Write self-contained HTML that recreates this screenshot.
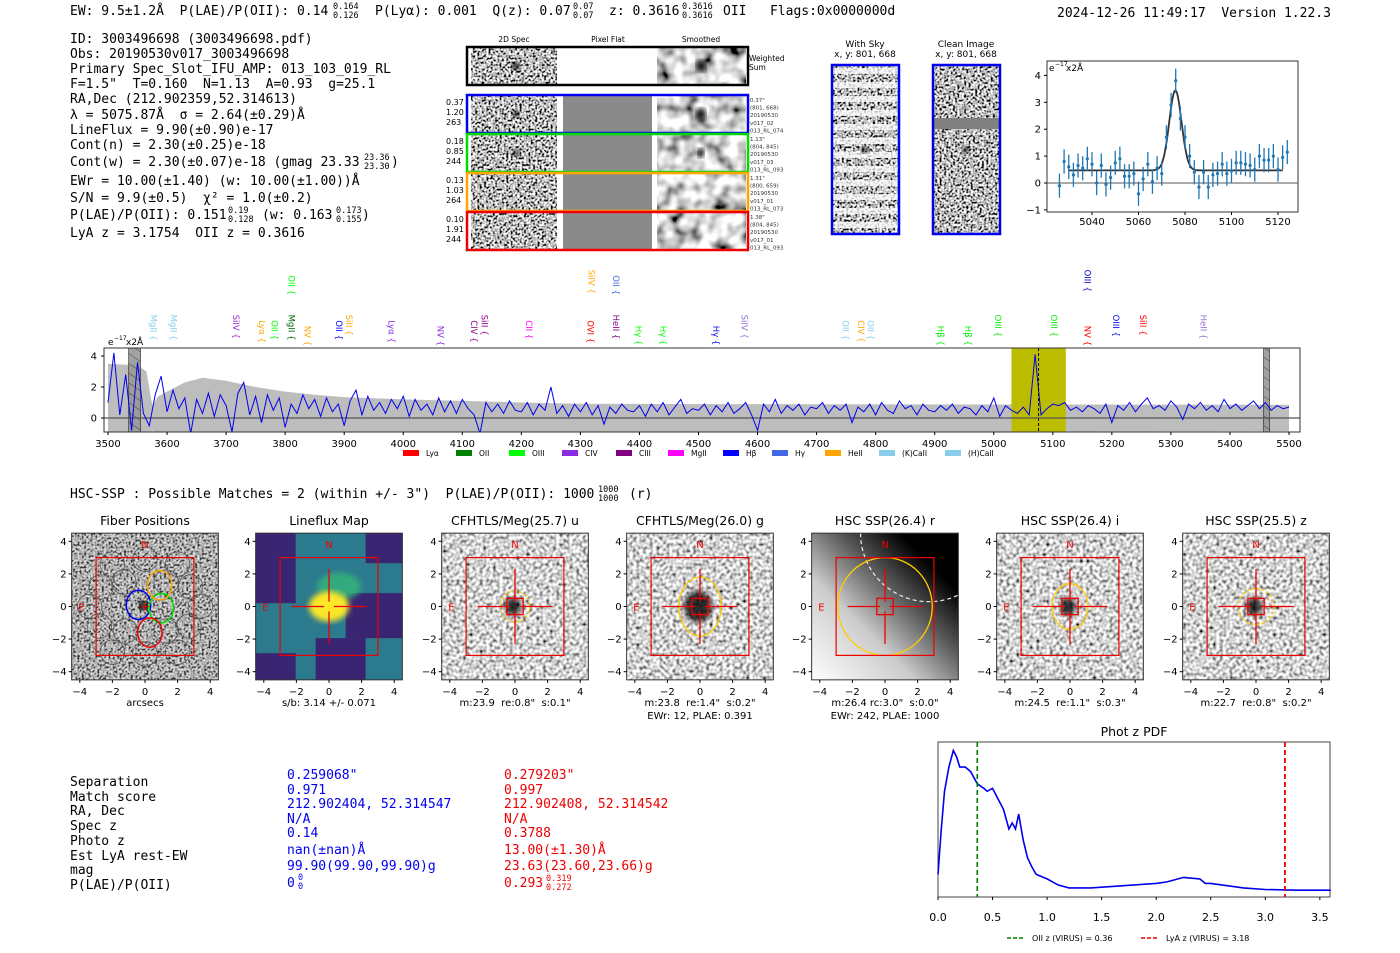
<!DOCTYPE html>
<html><head><meta charset="utf-8"><title>Detection 3003496698</title>
<style>
html,body{margin:0;padding:0;background:#fff;}
svg{display:block;}
text{white-space:pre;}
.mono{font-family:"DejaVu Sans Mono","Liberation Mono",monospace;font-size:13px;fill:#000;white-space:pre;}
.mono[font-size]{font-size:8.5px;}
.sans{font-family:"DejaVu Sans","Liberation Sans",sans-serif;white-space:pre;}
.tick{font-family:"DejaVu Sans","Liberation Sans",sans-serif;font-size:10px;fill:#000;white-space:pre;}
.ttl{font-family:"DejaVu Sans","Liberation Sans",sans-serif;font-size:12.5px;fill:#000;text-anchor:middle;}
</style></head>
<body>
<svg id="root" xml:space="preserve" width="1400" height="953" viewBox="0 0 1400 953" xmlns="http://www.w3.org/2000/svg">
<defs>
<filter id="grain" x="0" y="0" width="100%" height="100%"><feTurbulence type="fractalNoise" baseFrequency="0.45" numOctaves="1" seed="4"/><feColorMatrix type="matrix" values="3.2 0 0 0 -1.1 3.2 0 0 0 -1.1 3.2 0 0 0 -1.1 0 0 0 0 1"/></filter>
<filter id="grainlt" x="0" y="0" width="100%" height="100%"><feTurbulence type="fractalNoise" baseFrequency="0.3" numOctaves="1" seed="9"/><feColorMatrix type="matrix" values="2.2 0 0 0 -0.45 2.2 0 0 0 -0.45 2.2 0 0 0 -0.45 0 0 0 0 1"/></filter>
<filter id="smooth" x="0" y="0" width="100%" height="100%"><feTurbulence type="fractalNoise" baseFrequency="0.07" numOctaves="2" seed="2"/><feColorMatrix type="matrix" values="2.2 0 0 0 -0.45 2.2 0 0 0 -0.45 2.2 0 0 0 -0.45 0 0 0 0 1"/></filter>
<filter id="blurblob"><feGaussianBlur stdDeviation="3"/></filter>
<linearGradient id="rgrad" x1="0" y1="1" x2="1" y2="0"><stop offset="0" stop-color="#fff"/><stop offset="0.35" stop-color="#ccc"/><stop offset="0.6" stop-color="#555"/><stop offset="0.8" stop-color="#000"/></linearGradient>
<pattern id="hatch" width="8" height="8" patternUnits="userSpaceOnUse" patternTransform="rotate(-55)"><rect width="8" height="8" fill="#999"/><line x1="0" y1="0" x2="0" y2="8" stroke="#333" stroke-width="1"/></pattern>
<clipPath id="specclip"><rect x="104" y="348" width="1196" height="84"/></clipPath>
<clipPath id="zclip"><rect x="1047" y="61" width="251" height="151"/></clipPath>
</defs>

<g>
<text class="mono" x="70" y="15">EW: 9.5±1.2Å  P(LAE)/P(OII): 0.14</text>
<text class="mono" x="333" y="9" font-size="8.5">0.164</text><text class="mono" x="333" y="18" font-size="8.5">0.126</text>
<text class="mono" x="375" y="15">P(Lyα): 0.001  Q(z): 0.07</text>
<text class="mono" x="573" y="9" font-size="8.5">0.07</text><text class="mono" x="573" y="18" font-size="8.5">0.07</text>
<text class="mono" x="609" y="15">z: 0.3616</text>
<text class="mono" x="682" y="9" font-size="8.5">0.3616</text><text class="mono" x="682" y="18" font-size="8.5">0.3616</text>
<text class="mono" x="723" y="15">OII   Flags:0x0000000d</text>
<text class="mono" x="1057" y="17">2024-12-26 11:49:17  Version 1.22.3</text>
</g>

<g>
<text class="mono" x="70" y="43">ID: 3003496698 (3003496698.pdf)</text>
<text class="mono" x="70" y="58">Obs: 20190530v017_3003496698</text>
<text class="mono" x="70" y="73">Primary Spec_Slot_IFU_AMP: 013_103_019_RL</text>
<text class="mono" x="70" y="88">F=1.5"  T=0.160  N=1.13  A=0.93  g=25.1</text>
<text class="mono" x="70" y="103">RA,Dec (212.902359,52.314613)</text>
<text class="mono" x="70" y="119">λ = 5075.87Å  σ = 2.64(±0.29)Å</text>
<text class="mono" x="70" y="134">LineFlux = 9.90(±0.90)e-17</text>
<text class="mono" x="70" y="149">Cont(n) = 2.30(±0.25)e-18</text>
<text class="mono" x="70" y="166">Cont(w) = 2.30(±0.07)e-18 (gmag 23.33</text>
<text class="mono" x="364" y="160" font-size="8.5">23.36</text><text class="mono" x="364" y="169" font-size="8.5">23.30</text><text class="mono" x="391" y="166">)</text>
<text class="mono" x="70" y="185">EWr = 10.00(±1.40) (w: 10.00(±1.00))Å</text>
<text class="mono" x="70" y="202">S/N = 9.9(±0.5)  χ² = 1.0(±0.2)</text>
<text class="mono" x="70" y="219">P(LAE)/P(OII): 0.151</text>
<text class="mono" x="228" y="213" font-size="8.5">0.19</text><text class="mono" x="228" y="222" font-size="8.5">0.128</text>
<text class="mono" x="262" y="219">(w: 0.163</text>
<text class="mono" x="336" y="213" font-size="8.5">0.173</text><text class="mono" x="336" y="222" font-size="8.5">0.155</text><text class="mono" x="362" y="219">)</text>
<text class="mono" x="70" y="237">LyA z = 3.1754  OII z = 0.3616</text>
</g>

<g class="sans">
<text x="514" y="42" font-size="7.5" text-anchor="middle">2D Spec</text>
<text x="608" y="42" font-size="7.5" text-anchor="middle">Pixel Flat</text>
<text x="701" y="42" font-size="7.5" text-anchor="middle">Smoothed</text>
<g>
<rect x="471" y="48" width="86" height="36" fill="#888" filter="url(#grain)"/>
<rect x="657" y="48" width="89" height="36" fill="#888" filter="url(#smooth)"/>
<ellipse cx="516" cy="66" rx="4" ry="4" fill="#000" filter="url(#blurblob)"/>
<ellipse cx="701" cy="66" rx="5" ry="6" fill="#000" filter="url(#blurblob)"/>
<rect x="467" y="47" width="281" height="38" fill="none" stroke="#000" stroke-width="2.5"/>
<text x="749" y="61" font-size="7.5">Weighted</text><text x="749" y="70" font-size="7.5">Sum</text>
</g>
<g id="fiberrows"></g>
</g>

<g class="sans">
<text x="865" y="47" font-size="9" text-anchor="middle">With Sky</text>
<text x="865" y="57" font-size="9" text-anchor="middle">x, y: 801, 668</text>
<rect x="832" y="65" width="67" height="169" fill="#888" filter="url(#grain)"/>
<g id="skystripes"></g>
<ellipse cx="865" cy="150" rx="4" ry="3" fill="#000" filter="url(#blurblob)"/>
<rect x="832" y="65" width="67" height="169" fill="none" stroke="#0000ee" stroke-width="2.5"/>
</g>
<g class="sans">
<text x="966" y="47" font-size="9" text-anchor="middle">Clean Image</text>
<text x="966" y="57" font-size="9" text-anchor="middle">x, y: 801, 668</text>
<rect x="933" y="65" width="67" height="169" fill="#888" filter="url(#grain)"/>
<rect x="933" y="118" width="67" height="11" fill="#808080"/>
<ellipse cx="966" cy="150" rx="4" ry="3" fill="#000" filter="url(#blurblob)"/>
<rect x="933" y="65" width="67" height="169" fill="none" stroke="#0000ee" stroke-width="2.5"/>
</g>

<g id="zoomplot"></g>
<g id="specplot"></g>

<text class="mono" x="70" y="498">HSC-SSP : Possible Matches = 2 (within +/- 3")  P(LAE)/P(OII): 1000</text>
<text class="mono" x="598" y="492" font-size="8.5">1000</text>
<text class="mono" x="598" y="501" font-size="8.5">1000</text>
<text class="mono" x="629" y="498">(r)</text>

<g id="thumbs"></g>

<g>
<g class="mono">
<text class="mono" x="70" y="786">Separation</text><text class="mono" x="70" y="801">Match score</text><text class="mono" x="70" y="815">RA, Dec</text><text class="mono" x="70" y="830">Spec z</text><text class="mono" x="70" y="845">Photo z</text><text class="mono" x="70" y="860">Est LyA rest-EW</text><text class="mono" x="70" y="874">mag</text><text class="mono" x="70" y="889">P(LAE)/P(OII)</text>
</g>
<g>
<text class="mono" x="287" y="779" style="fill:#0000ee">0.259068"</text><text class="mono" x="287" y="794" style="fill:#0000ee">0.971</text><text class="mono" x="287" y="808" style="fill:#0000ee">212.902404, 52.314547</text><text class="mono" x="287" y="823" style="fill:#0000ee">N/A</text><text class="mono" x="287" y="837" style="fill:#0000ee">0.14</text><text class="mono" x="287" y="854" style="fill:#0000ee">nan(±nan)Å</text><text class="mono" x="287" y="870" style="fill:#0000ee">99.90(99.90,99.90)g</text><text class="mono" x="287" y="887" style="fill:#0000ee">0</text>
<text class="mono" x="298" y="880" font-size="8.5" style="fill:#0000ee">0</text><text class="mono" x="298" y="889" font-size="8.5" style="fill:#0000ee">0</text>
</g>
<g>
<text class="mono" x="504" y="779" style="fill:#ee0000">0.279203"</text><text class="mono" x="504" y="794" style="fill:#ee0000">0.997</text><text class="mono" x="504" y="808" style="fill:#ee0000">212.902408, 52.314542</text><text class="mono" x="504" y="823" style="fill:#ee0000">N/A</text><text class="mono" x="504" y="837" style="fill:#ee0000">0.3788</text><text class="mono" x="504" y="854" style="fill:#ee0000">13.00(±1.30)Å</text><text class="mono" x="504" y="870" style="fill:#ee0000">23.63(23.60,23.66)g</text><text class="mono" x="504" y="887" style="fill:#ee0000">0.293</text>
<text class="mono" x="546" y="881" font-size="8.5" style="fill:#ee0000">0.319</text><text class="mono" x="546" y="890" font-size="8.5" style="fill:#ee0000">0.272</text>
</g>
</g>

<g id="pdfplot"></g>
</svg>

<script>
// ===== data: zoom line-fit plot =====
const zoomFlux = [-0.1,0.8,0.6,0.3,0.65,0.55,0.9,0.7,0.0,0.65,-0.05,0.2,0.75,0.9,0.25,0.25,0.35,-0.4,0.15,0.7,0.05,0.55,0.35,1.7,2.9,3.8,2.4,1.7,1.0,0.4,-0.15,0.4,-0.15,0.3,0.35,0.7,0.35,0.45,0.75,0.75,0.7,0.65,0.5,1.0,0.85,0.85,1.0,0.5,0.95,1.15];
const zoomStart = 5026;
const zoomStep = 2;
const zoomErr = [0.45];
const fitParams = [0.47, 2.98, 5075.87, 2.64]; // continuum, amplitude, center, sigma
const zoomXTicks = [5040,5060,5080,5100,5120];
const zoomYTicks = [-1,0,1,2,3,4];

// ===== data: full spectrum =====
const specStart = 3500;
const specStep = 10;
const specFlux = [
1.0,4.2,0.2,2.8,-0.8,3.6,0.3,-0.5,1.5,2.7,
0.4,1.8,0.6,1.3,-1.0,1.2,0.3,1.6,0.1,1.5,
0.8,-0.9,1.6,2.3,0.2,1.4,-0.3,1.5,0.5,1.3,
-0.6,0.9,0.3,1.5,0.6,1.2,0.1,1.3,0.4,0.9,
-0.5,1.1,1.8,0.2,1.4,0.5,1.0,0.3,1.2,0.6,
1.4,0.1,1.2,0.5,0.9,0.2,1.3,0.4,1.1,0.3,
1.2,0.6,0.2,-1.0,1.0,0.4,0.9,0.3,1.1,0.5,
0.4,1.0,0.2,0.9,0.5,2.0,0.3,0.8,0.1,0.9,
0.4,1.0,0.2,0.8,-0.4,0.7,0.3,0.9,0.5,0.4,
0.8,0.1,0.9,0.4,1.0,0.2,0.7,1.2,0.3,0.6,
0.5,0.9,0.2,0.8,0.4,1.0,0.3,0.6,1.0,0.2,
-0.8,0.9,0.4,1.2,0.3,0.8,0.5,0.9,0.2,0.7,
0.6,1.0,0.3,0.8,0.5,0.9,-0.3,0.7,0.4,0.9,
0.2,1.0,0.5,0.3,1.1,0.6,0.8,0.2,0.9,0.5,
0.4,0.8,0.5,0.9,0.3,0.7,0.6,0.2,0.8,0.4,
1.3,0.1,0.8,0.5,0.3,0.7,0.2,4.1,0.2,0.6,
0.9,0.8,1.0,0.5,0.7,0.4,0.8,0.6,0.3,0.9,
-0.3,0.8,0.5,1.0,0.4,0.9,1.3,0.6,0.8,0.5,
1.1,0.7,-0.1,0.9,0.6,1.0,0.5,0.8,0.4,1.2,
0.6,0.9,0.5,0.8,1.1,0.6,1.0,0.5,0.8,0.6,0.7];
const errWave = [3500,3550,3565,3575,3585,3600,3630,3660,3700,3750,3800,3850,3900,4000,4100,4200,4300,4500,5000,5500];
const errVal  = [3.5,3.4,3.0,0.8,1.4,1.7,2.3,2.6,2.4,2.0,1.7,1.5,1.35,1.2,1.1,1.0,0.92,0.9,0.87,0.85];
const specXTicks = [3500,3600,3700,3800,3900,4000,4100,4200,4300,4400,4500,4600,4700,4800,4900,5000,5100,5200,5300,5400,5500];
const specYTicks = [0,2,4];
const fitWindow = [5030,5122];
const lineCenter = [5075.87];
const maskRegions = [[3535,3555],[5457,5467]];
const lineNames = ['MgII','MgII','SiIV','Lyα','OII','MgII','NV','OII','SiII','Lyα','NV','CIV','SiII','CII','OVI','HeII','Hγ','Hγ','Hγ','SiIV','OII','CIV','OII','Hβ','Hβ','OIII','OIII','NV','OIII','SiII','HeII','OII','SiIV','OII','OIII'];
const lineWaves = [3577,3611,3717,3761,3782,3811,3838,3891,3908,3980,4063,4120,4138,4213,4317,4360,4398,4440,4530,4578,4749,4775,4791,4910,4956,5007,5102,5159,5207,5253,5355,3811,4319,4360,5159];
const lineColors = ['#87ceeb','#87ceeb','#9932cc','#ffa500','#00ff00','#006400','#ffa500','#0000ff','#ffa500','#8a2be2','#8a2be2','#8b008b','#8b008b','#ff00ff','#ff0000','#800080','#00ff00','#00ff00','#0000ff','#9370db','#87ceeb','#ffa500','#87ceeb','#00ee00','#00ee00','#00ee00','#00ee00','#ff0000','#0000ff','#ff0000','#9370db','#00ff00','#ffa500','#4169e1','#0000cc'];
const lineRow = [0,0,0,0,0,0,0,0,0,0,0,0,0,0,0,0,0,0,0,0,0,0,0,0,0,0,0,0,0,0,0,1,1,1,1];
const legendNames = ['Lyα','OII','OIII','CIV','CIII','MgII','Hβ','Hγ','HeII','(K)CaII','(H)CaII'];
const legendColors = ['#ff0000','#008000','#00ff00','#8a2be2','#800080','#ff00ff','#0000ff','#4169e1','#ffa500','#87ceeb','#87ceeb'];

// ===== data: photo-z PDF =====
const pdfZ = [0,0.03,0.06,0.1,0.14,0.17,0.2,0.25,0.3,0.36,0.42,0.45,0.5,0.55,0.6,0.65,0.68,0.71,0.74,0.78,0.82,0.86,0.9,1.0,1.1,1.2,1.4,1.6,1.8,2.0,2.1,2.25,2.4,2.45,2.5,2.6,2.8,3.0,3.3,3.6];
const pdfVal = [0.15,0.45,0.7,0.86,0.97,0.93,0.86,0.86,0.83,0.75,0.72,0.70,0.72,0.65,0.58,0.45,0.49,0.45,0.55,0.38,0.26,0.2,0.15,0.12,0.08,0.06,0.06,0.07,0.08,0.09,0.1,0.13,0.12,0.09,0.09,0.08,0.06,0.05,0.045,0.045];
const pdfXTicks = [0.0,0.5,1.0,1.5,2.0,2.5,3.0,3.5];
const pdfMarkers = [0.36, 3.18];

// ===== data: thumbnail panels =====
const thumbTitles = ['Fiber Positions','Lineflux Map','CFHTLS/Meg(25.7) u','CFHTLS/Meg(26.0) g','HSC SSP(26.4) r','HSC SSP(26.4) i','HSC SSP(25.5) z'];
const thumbLabels = [['arcsecs'],['s/b: 3.14 +/- 0.071'],['m:23.9  re:0.8"  s:0.1"'],['m:23.8  re:1.4"  s:0.2"','EWr: 12, PLAE: 0.391'],['m:26.4 rc:3.0"  s:0.0"','EWr: 242, PLAE: 1000'],['m:24.5  re:1.1"  s:0.3"'],['m:22.7  re:0.8"  s:0.2"']];
const thumbEllipse = [[0,0,0],[0,0,0],[0.9,0.95,1],[1.3,1.8,0],[2.9,3.0,0],[1.1,1.4,0],[1.1,1.1,1]];
const fiberRows = [['0.37','1.20','263'],['0.18','0.85','244'],['0.13','1.03','264'],['0.10','1.91','244']];
const fiberInfo = [['0.37"','(801, 668)','20190530','v017_02','013_RL_074'],['1.13"','(804, 845)','20190530','v017_03','013_RL_093'],['1.31"','(800, 659)','20190530','v017_01','013_RL_073'],['1.38"','(804, 845)','20190530','v017_01','013_RL_093']];
const fiberColors = ['#0000ee','#00dd00','#ffa500','#ee0000'];

const NS='http://www.w3.org/2000/svg';
function mk(tag, attrs, parent){const e=document.createElementNS(NS,tag);for(const k in attrs)e.setAttribute(k,attrs[k]);parent.appendChild(e);return e;}
function txt(s, attrs, parent){const e=mk('text',attrs,parent);e.textContent=s;return e;}

(function(){
 const g=document.getElementById('fiberrows');
 for(let i=0;i<4;i++){
  const y0=96+i*39;
  const row=mk('g',{},g);
  
  
  mk('rect',{x:471,y:y0,width:86,height:37,fill:'#888',filter:'url(#grain)'},row);
  mk('rect',{x:563,y:y0,width:89,height:37,fill:'#8a8a8a'},row);
  mk('rect',{x:657,y:y0,width:89,height:37,fill:'#888',filter:'url(#smooth)'},row);
  if(i<2){mk('ellipse',{cx:516,cy:y0+18,rx:3.5,ry:3.5,fill:'#000',filter:'url(#blurblob)'},row);
   mk('ellipse',{cx:701,cy:y0+18,rx:i==0?5:3,ry:i==0?6:5,fill:'#000',filter:'url(#blurblob)'},row);}
  mk('rect',{x:467,y:y0-1,width:281,height:38,fill:'none',stroke:fiberColors[i],'stroke-width':2.5},row);
  fiberRows[i].forEach((s,j)=>txt(s,{x:446,y:y0+9+j*10,'font-size':8,class:'sans'},row));
  fiberInfo[i].forEach((s,j)=>txt(s,{x:750,y:y0+6+j*7.6,'font-size':5.5,class:'sans',fill:'#333'},row));
 }
 const sg=document.getElementById('skystripes');
 for(let k=0;k<12;k++){
  const s=mk('rect',{x:832,y:68+k*14,width:67,height:6,fill:'#fff',opacity:0.75},sg);
  
  
 }
})();

(function(){
 const g=document.getElementById('zoomplot');
 const zx=w=>1092+(w-5040)*2.325, zy=v=>183-v*26.9;
 mk('rect',{x:1047,y:61,width:251,height:151,fill:'#fff',stroke:'#333','stroke-width':1},g);
 const zl=mk('line',{x1:1047,x2:1298,y1:zy(0),y2:zy(0),stroke:'#555','stroke-width':1},g);
 
 
 zoomXTicks.forEach(t=>{mk('line',{x1:zx(t),x2:zx(t),y1:212,y2:215,stroke:'#000'},g);txt(String(t),{x:zx(t),y:225,class:'tick','text-anchor':'middle'},g);});
 zoomYTicks.forEach(t=>{mk('line',{x1:1044,x2:1047,y1:zy(t),y2:zy(t),stroke:'#000'},g);txt(t<0?'−'+(-t):String(t),{x:1041,y:zy(t)+3.5,class:'tick','text-anchor':'end'},g);});
 txt('e',{x:1049,y:71,class:'sans','font-size':9},g);
 txt('−17',{x:1055,y:66,class:'sans','font-size':6},g);
 txt('x2Å',{x:1066,y:71,class:'sans','font-size':9},g);
 const cg=mk('g',{'clip-path':'url(#zclip)'},g);
 let d='';
 for(let w=5030;w<=5122;w+=0.5){const v=fitParams[0]+fitParams[1]*Math.exp(-0.5*Math.pow((w-fitParams[2])/fitParams[3],2));d+=(d?'L':'M')+zx(w).toFixed(1)+','+zy(v).toFixed(1);}
 const fit=mk('path',{d:d,fill:'none',stroke:'#333','stroke-width':1.8},cg);
 
 
 zoomFlux.forEach((v,i)=>{
  const w=zoomStart+i*zoomStep;
  const pg=mk('g',{},cg);
  
  
  mk('line',{x1:zx(w),x2:zx(w),y1:zy(v-zoomErr[0]),y2:zy(v+zoomErr[0]),stroke:'#1f77b4','stroke-width':1.3},pg);
  mk('circle',{cx:zx(w),cy:zy(v),r:1.6,fill:'#1f77b4'},pg);
 });
})();

(function(){
 const g=document.getElementById('specplot');
 const sx=w=>108+(w-3500)*0.5905, sy=v=>418-v*15.5;
 lineNames.forEach((n,i)=>{
  const x=sx(lineWaves[i]);
  const yb=lineRow[i]?300:345;
  const t=txt(n+' {',{x:0,y:0,class:'sans','font-size':8.5,fill:lineColors[i],transform:'translate('+(x-3)+','+(yb-(n.length*5.6+8))+') rotate(90)'},g);
  
  
 });
 mk('rect',{x:104,y:348,width:1196,height:84,fill:'#fff'},g);
 const cg=mk('g',{'clip-path':'url(#specclip)'},g);
 let up='',lo='';
 errWave.forEach((w,i)=>{up+=(i?'L':'M')+sx(w).toFixed(1)+','+sy(errVal[i]).toFixed(1);});
 for(let i=errWave.length-1;i>=0;i--){lo+='L'+sx(errWave[i]).toFixed(1)+','+sy(-errVal[i]).toFixed(1);}
 const band=mk('path',{d:up+lo+'Z',fill:'#bdbdbd'},cg);
 
 
 const fw=mk('rect',{x:sx(fitWindow[0]),y:348,width:sx(fitWindow[1])-sx(fitWindow[0]),height:84,fill:'#bdbd00'},cg);
 
 
 maskRegions.forEach(m=>{
  const r=mk('rect',{x:sx(m[0]),y:348,width:sx(m[1])-sx(m[0]),height:84,fill:'url(#hatch)',stroke:'#333','stroke-width':0.8,opacity:0.9},cg);
  
  
 });
 mk('line',{x1:104,x2:1300,y1:sy(0),y2:sy(0),stroke:'#555','stroke-width':1.3},cg);
 let d='';
 specFlux.forEach((v,i)=>{d+=(i?'L':'M')+sx(specStart+i*specStep).toFixed(1)+','+sy(v).toFixed(1);});
 const sp=mk('path',{d:d,fill:'none',stroke:'#0000ee','stroke-width':1},cg);
 
 
 const cl=mk('line',{x1:sx(lineCenter[0]),x2:sx(lineCenter[0]),y1:348,y2:432,stroke:'#000','stroke-width':1,'stroke-dasharray':'3,2'},cg);
 
 
 mk('rect',{x:104,y:348,width:1196,height:84,fill:'none',stroke:'#333','stroke-width':1},g);
 specXTicks.forEach(t=>{mk('line',{x1:sx(t),x2:sx(t),y1:432,y2:435,stroke:'#000'},g);txt(String(t),{x:sx(t),y:447,class:'tick','text-anchor':'middle'},g);});
 specYTicks.forEach(t=>{mk('line',{x1:101,x2:104,y1:sy(t),y2:sy(t),stroke:'#000'},g);txt(String(t),{x:97,y:sy(t)+3.5,class:'tick','text-anchor':'end'},g);});
 txt('e',{x:108,y:345,class:'sans','font-size':9},g);
 txt('−17',{x:114,y:340,class:'sans','font-size':6},g);
 txt('x2Å',{x:126,y:345,class:'sans','font-size':9},g);
 const lx=[403,456,509,562,616,668,723,772,825,879,945];
 legendNames.forEach((n,i)=>{
  const lg=mk('g',{},g);
  
  
  mk('rect',{x:lx[i],y:450,width:16,height:6,fill:legendColors[i]},lg);
  txt(n,{x:lx[i]+23,y:456,class:'sans','font-size':7.5},lg);
 });
})();

(function(){
 const g=document.getElementById('thumbs');
 const cxs=[145,329,515,700,885,1070,1256];
 const u=16.3, cy=606.5;
 cxs.forEach((cx,i)=>{
  const p=mk('g',{},g);
  
  
  const L=cx-4.5*u, T=cy-4.5*u, W=9*u;
  txt(thumbTitles[i],{x:cx,y:525,class:'ttl'},p);
  if(i==1){
   mk('rect',{x:L,y:T,width:W,height:W,fill:'#2c7a8e'},p);
   [[L,T,40,70],[L+90,T+60,57,45],[L+60,T+105,50,42],[L,T+120,40,27],[L+110,T,37,30]].forEach(r=>mk('rect',{x:r[0],y:r[1],width:r[2],height:r[3],fill:'#3b1c6e',opacity:0.9},p));
   mk('ellipse',{cx:cx+10,cy:cy-20,rx:22,ry:14,fill:'#35b779',opacity:0.8,filter:'url(#blurblob)'},p);
   mk('ellipse',{cx:cx,cy:cy,rx:20,ry:15,fill:'#fde725',filter:'url(#blurblob)'},p);
  } else if(i==4){
   mk('rect',{x:L,y:T,width:W,height:W,fill:'url(#rgrad)'},p);
   mk('path',{d:'M'+(cx-1.5*u)+','+T+' A'+(4.2*u)+','+(4.2*u)+' 0 0 0 '+(L+W)+','+(cy-0.7*u),fill:'none',stroke:'#eee','stroke-dasharray':'4,3','stroke-width':1.2},p);
  } else {
   mk('rect',{x:L,y:T,width:W,height:W,fill:'#999',filter:i==0?'url(#grain)':'url(#grainlt)'},p);
   if(i==0) mk('rect',{x:L,y:T,width:W,height:W,fill:'#999',opacity:0.35},p);
   if(i>=2) mk('ellipse',{cx:cx-2,cy:cy,rx:i==3?14:8,ry:i==3?16:9,fill:'#000',opacity:0.8,filter:'url(#blurblob)'},p);
  }
  if(i==0){
   const pts=[[-2,2.6],[0,2.9],[2,2.6],[-2.7,1.2],[-1.3,1.5],[1.3,1.5],[2.8,1.2],[-2.8,-1.2],[-1.2,-1.5],[1.3,-1.5],[2.7,-1.2],[-2,-2.8],[0,-2.9],[2,-2.8],[-3.4,0],[3.4,0]];
   pts.forEach(q=>mk('circle',{cx:cx+q[0]*u,cy:cy-q[1]*u,r:0.75*u,fill:'none',stroke:'#555','stroke-width':0.8},p));
   [[-0.4,0.1,'#0000ee'],[1.0,-0.1,'#00dd00'],[0.9,1.3,'#ffa500'],[0.3,-1.6,'#ee0000']].forEach(q=>mk('ellipse',{cx:cx+q[0]*u,cy:cy-q[1]*u,rx:0.75*u,ry:0.9*u,fill:'none',stroke:q[2],'stroke-width':1.5},p));
   mk('rect',{x:cx-6,y:cy-6,width:9,height:10,fill:'#111',opacity:0.7},p);
  }
  const ell=thumbEllipse[i];
  if(ell[0]>0){
   const e=mk('ellipse',{cx:cx,cy:cy,rx:ell[0]*u,ry:ell[1]*u,fill:'none',stroke:'#ffcc00','stroke-width':1.3},p);
   if(ell[2]) e.setAttribute('stroke-dasharray','3,2');
   
   
  }
  mk('rect',{x:cx-3*u,y:cy-3*u,width:6*u,height:6*u,fill:'none',stroke:'#ee0000','stroke-width':1.2},p);
  if(i>0){
   mk('line',{x1:cx-2.3*u,x2:cx-0.3*u,y1:cy,y2:cy,stroke:'#ee0000','stroke-width':1.3},p);
   mk('line',{x1:cx+0.3*u,x2:cx+2.3*u,y1:cy,y2:cy,stroke:'#ee0000','stroke-width':1.3},p);
   mk('line',{x1:cx,x2:cx,y1:cy-2.3*u,y2:cy-0.3*u,stroke:'#ee0000','stroke-width':1.3},p);
   mk('line',{x1:cx,x2:cx,y1:cy+0.3*u,y2:cy+2.3*u,stroke:'#ee0000','stroke-width':1.3},p);
   if(i!=1) mk('rect',{x:cx-0.5*u,y:cy-0.5*u,width:u,height:u,fill:'none',stroke:'#ee0000','stroke-width':1.3},p);
  } else {
   mk('line',{x1:cx-4,x2:cx+4,y1:cy,y2:cy,stroke:'#ee0000'},p);
   mk('line',{x1:cx,x2:cx,y1:cy-4,y2:cy+4,stroke:'#ee0000'},p);
  }
  txt('N',{x:cx,y:cy-3.6*u,class:'sans','font-size':10,fill:'#ee0000','text-anchor':'middle'},p);
  txt('E',{x:cx-3.9*u,y:cy+4,class:'sans','font-size':10,fill:'#ee0000','text-anchor':'middle'},p);
  mk('rect',{x:L,y:T,width:W,height:W,fill:'none',stroke:'#333','stroke-width':1},p);
  [-4,-2,0,2,4].forEach(t=>{
   mk('line',{x1:L-3,x2:L,y1:cy-t*u,y2:cy-t*u,stroke:'#000'},p);
   txt(t<0?'−'+(-t):String(t),{x:L-5,y:cy-t*u+3.5,class:'tick','text-anchor':'end'},p);
   mk('line',{x1:cx+t*u,x2:cx+t*u,y1:T+W,y2:T+W+3,stroke:'#000'},p);
   txt(t<0?'−'+(-t):String(t),{x:cx+t*u,y:T+W+15,class:'tick','text-anchor':'middle'},p);
  });
  thumbLabels[i].forEach((s,j)=>txt(s,{x:cx,y:706+j*13,class:'tick','text-anchor':'middle'},p));
 });
})();

(function(){
 const g=document.getElementById('pdfplot');
 const px=z=>938+z*109.1, py=v=>897-v*151;
 txt('Phot z PDF',{x:1134,y:736,class:'ttl'},g);
 mk('rect',{x:938,y:742,width:392,height:155,fill:'#fff',stroke:'#444','stroke-width':1},g);
 let d='';
 pdfZ.forEach((z,i)=>{d+=(i?'L':'M')+px(z).toFixed(1)+','+py(pdfVal[i]).toFixed(1);});
 const l=mk('path',{d:d,fill:'none',stroke:'#0000ee','stroke-width':1.6},g);
 
 
 const m1=mk('line',{x1:px(pdfMarkers[0]),x2:px(pdfMarkers[0]),y1:742,y2:897,stroke:'#008000','stroke-width':1.6,'stroke-dasharray':'5,3'},g);
 
 
 const m2=mk('line',{x1:px(pdfMarkers[1]),x2:px(pdfMarkers[1]),y1:742,y2:897,stroke:'#ee0000','stroke-width':1.8,'stroke-dasharray':'5,3'},g);
 
 
 pdfXTicks.forEach(t=>{mk('line',{x1:px(t),x2:px(t),y1:897,y2:900,stroke:'#000'},g);txt(t.toFixed(1),{x:px(t),y:921,class:'sans','font-size':11,'text-anchor':'middle'},g);});
 const lg=mk('g',{},g);
 
 
 mk('line',{x1:1007,x2:1024,y1:938,y2:938,stroke:'#008000','stroke-width':1.6,'stroke-dasharray':'4,2'},lg);
 txt('OII z (VIRUS) = 0.36',{x:1032,y:941,class:'sans','font-size':8},lg);
 mk('line',{x1:1141,x2:1158,y1:938,y2:938,stroke:'#ee0000','stroke-width':1.6,'stroke-dasharray':'4,2'},lg);
 txt('LyA z (VIRUS) = 3.18',{x:1166,y:941,class:'sans','font-size':8},lg);
})();
</script>
</body></html>
